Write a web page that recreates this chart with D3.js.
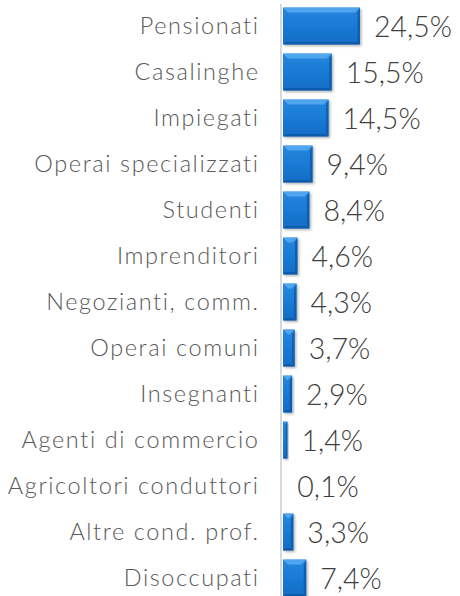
<!DOCTYPE html>
<html>
<head>
<meta charset="utf-8">
<script src="https://cdn.jsdelivr.net/npm/d3@7"></script>
<style>
  html, body { margin: 0; padding: 0; background: #fff; }
  svg { display: block; }
</style>
</head>
<body>
<div id="chart"></div>
<script>
const categories = ['Pensionati', 'Casalinghe', 'Impiegati', 'Operai specializzati', 'Studenti',
  'Imprenditori', 'Negozianti, comm.', 'Operai comuni', 'Insegnanti', 'Agenti di commercio',
  'Agricoltori conduttori', 'Altre cond. prof.', 'Disoccupati'];
const values = [24.5, 15.5, 14.5, 9.4, 8.4, 4.6, 4.3, 3.7, 2.9, 1.4, 0.1, 3.3, 7.4];

const width = 460, height = 596;
const x0 = 283;
const spacing = 1.6;

const svg = d3.select('#chart').append('svg')
  .attr('width', width)
  .attr('height', height);

const defs = svg.append('defs');
const grad = defs.append('linearGradient')
  .attr('id', 'barGrad')
  .attr('x1', 0).attr('y1', 0).attr('x2', 0).attr('y2', 1);
grad.append('stop').attr('offset', '0%').attr('stop-color', '#2586de');
grad.append('stop').attr('offset', '50%').attr('stop-color', '#1a7ad4');
grad.append('stop').attr('offset', '100%').attr('stop-color', '#136cc4');

const filter = defs.append('filter').attr('id', 'shadow')
  .attr('x', '-20%').attr('y', '-20%').attr('width', '150%').attr('height', '150%');
filter.append('feDropShadow')
  .attr('dx', 1.5).attr('dy', 1.5).attr('stdDeviation', 1.2)
  .attr('flood-color', '#000').attr('flood-opacity', 0.28);

const x = d3.scaleLinear().domain([0, 24.5]).range([0, 77]);
const y = d3.scaleBand().domain(categories).range([3, 601]).paddingInner(0.2).paddingOuter(0.1);

// axis line
svg.append('line')
  .attr('x1', x0 - 2).attr('x2', x0 - 2)
  .attr('y1', 4).attr('y2', height)
  .attr('stroke', '#d9d9d9').attr('stroke-width', 2);

const rows = svg.selectAll('g.row')
  .data(categories)
  .enter().append('g')
  .attr('class', 'row')
  .attr('transform', d => 'translate(0,' + y(d) + ')');

const bh = y.bandwidth();

rows.each(function(d, i) {
  const g = d3.select(this);
  const w = x(values[i]);
  if (w < 0.8) return;
  const bar = g.append('g').attr('filter', 'url(#shadow)');
  bar.append('rect')
    .attr('x', x0).attr('y', 0)
    .attr('width', w).attr('height', bh)
    .attr('fill', 'url(#barGrad)');
  const b = Math.min(5, w / 2);
  const s = Math.min(2.5, w / 3);
  // top bevel highlight
  bar.append('path')
    .attr('d', `M${x0},0 L${x0 + w},0 L${x0 + w - b},${b} L${x0 + b},${b} Z`)
    .attr('fill', '#55aaf0').attr('opacity', 0.9);
  // right bevel dark
  bar.append('path')
    .attr('d', `M${x0 + w},0 L${x0 + w},${bh} L${x0 + w - s},${bh - s} L${x0 + w - s},${b} Z`)
    .attr('fill', '#0d5aa8').attr('opacity', 0.8);
  // bottom bevel dark
  bar.append('path')
    .attr('d', `M${x0},${bh} L${x0 + w},${bh} L${x0 + w - s},${bh - s} L${x0 + s},${bh - s} Z`)
    .attr('fill', '#0d5aa8').attr('opacity', 0.9);
});

rows.append('text')
  .attr('x', 258 + spacing)
  .attr('y', bh / 2)
  .attr('dy', '0.36em')
  .attr('text-anchor', 'end')
  .attr('font-family', 'Lato, sans-serif')
  .attr('font-weight', 300)
  .attr('font-size', 23.5)
  .attr('letter-spacing', spacing)
  .attr('fill', '#595959')
  .text(d => d);

rows.append('text')
  .attr('x', (d, i) => x0 + x(values[i]) + 14)
  .attr('y', bh / 2)
  .attr('dy', '0.37em')
  .attr('font-family', 'Lato, sans-serif')
  .attr('font-weight', 300)
  .attr('font-size', 28.5)
  .attr('fill', '#404040')
  .text((d, i) => d3.format('.1f')(values[i]).replace('.', ',') + '%');
</script>
</body>
</html>
